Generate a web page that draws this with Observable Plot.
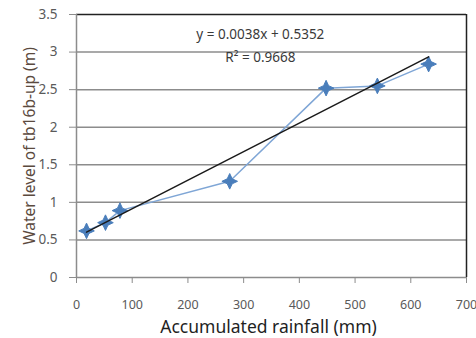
<!DOCTYPE html>
<html><head><meta charset="utf-8">
<script src="https://cdn.jsdelivr.net/npm/d3@7"></script>
<script src="https://cdn.jsdelivr.net/npm/@observablehq/plot@0.6"></script>
<style>
body{margin:0;background:#fff;}
#chart svg{display:block;}
</style>
</head><body><div id="chart"></div>
<script>
const rainfall = [18, 52, 78, 275, 448, 540, 632];
const waterLevel = [0.62, 0.73, 0.89, 1.28, 2.52, 2.55, 2.84];
const slope = 0.0038, intercept = 0.5352;
const xTicks = [0, 100, 200, 300, 400, 500, 600, 700];
const yTicks = [0, 0.5, 1, 1.5, 2, 2.5, 3, 3.5];
const eqLabels = ["y = 0.0038x + 0.5352", "R² = 0.9668"];
const eqX = [330, 330];
const eqY = [3.23, 2.92];

const pts = rainfall.map((x, i) => ({x, y: waterLevel[i]}));
const xmin = d3.min(rainfall), xmax = d3.max(rainfall);
const trend = [xmin, xmax].map(x => ({x, y: slope * x + intercept}));
const eq = eqLabels.map((t, i) => ({t, x: eqX[i], y: eqY[i]}));

// 4-pointed star-like diamond marker (Excel diamond look)
const star4 = {
  draw(context, size) {
    const R = Math.sqrt(size) * 0.8, r = R * 0.45;
    context.moveTo(0, -R);
    context.lineTo(r * 0.7071, -r * 0.7071);
    context.lineTo(R, 0);
    context.lineTo(r * 0.7071, r * 0.7071);
    context.lineTo(0, R);
    context.lineTo(-r * 0.7071, r * 0.7071);
    context.lineTo(-R, 0);
    context.lineTo(-r * 0.7071, -r * 0.7071);
    context.closePath();
  }
};

const font = "Noto Sans, sans-serif";
const chart = Plot.plot({
  width: 476, height: 338,
  marginLeft: 76, marginRight: 10, marginTop: 14, marginBottom: 61,
  style: {fontFamily: font, background: "#fff"},
  x: {domain: [0, 700], ticks: xTicks},
  y: {domain: [0, 3.5], ticks: yTicks},
  marks: [
    Plot.ruleY(yTicks.slice(1, -1), {stroke: "#8c8c8c", strokeWidth: 1.5}),
    Plot.ruleY([3.5], {stroke: "#222", strokeWidth: 1.5}),
    Plot.ruleX([700], {stroke: "#222", strokeWidth: 1.5}),
    Plot.ruleY([0], {stroke: "#8c8c8c", strokeWidth: 1.5}),
    Plot.ruleX([0], {stroke: "#8c8c8c", strokeWidth: 1.5}),
    Plot.axisX({ticks: xTicks, tickSize: 6, tickPadding: 17, stroke: "#8c8c8c", fontSize: 12.5, fill: "#5a5a5a",
      label: null}),
    Plot.axisY({ticks: yTicks, tickSize: 7, tickPadding: 12, stroke: "#8c8c8c", fontSize: 13.5, fill: "#5a5a5a",
      tickFormat: d => String(d), label: null}),
    Plot.text(["Accumulated rainfall (mm)"], {frameAnchor: "bottom", dy: 55, dx: -3, fontSize: 17.5, fill: "#1f1f1f"}),
    Plot.text(["Water level of tb16b-up (m)"], {frameAnchor: "left", textAnchor: "middle", dx: -46, rotate: -90, fontSize: 15.5, fill: "#5b4a3e"}),
    Plot.line(pts, {x: "x", y: "y", stroke: "#7fa6d6", strokeWidth: 1.5}),
    Plot.dot(pts, {x: "x", y: "y", symbol: star4, r: 5.5, fill: "#4a7ebb", stroke: "#4a7ebb", strokeWidth: 1}),
    Plot.line(trend, {x: "x", y: "y", stroke: "#1a1a1a", strokeWidth: 1.5}),
    Plot.text(eq, {x: "x", y: "y", text: "t", fontSize: 13.5, fill: "#3a3a3a"})
  ]
});
document.getElementById("chart").append(chart);
</script>
</body></html>
